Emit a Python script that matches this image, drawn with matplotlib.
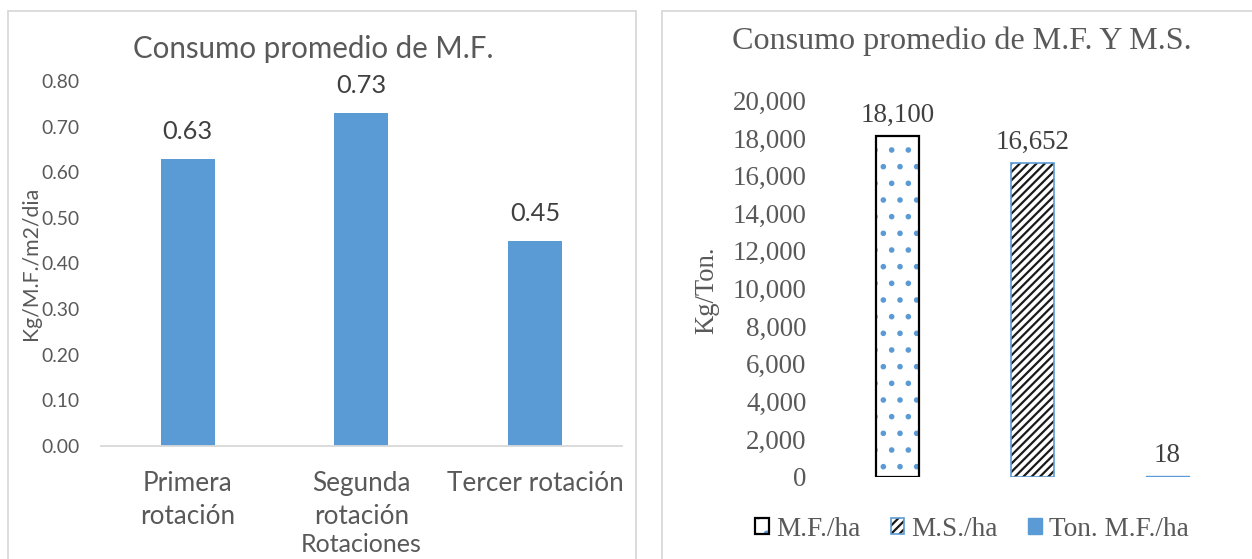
import matplotlib
matplotlib.use("Agg")
import matplotlib.pyplot as plt
from matplotlib.patches import Rectangle, Patch
from matplotlib.font_manager import FontProperties
from matplotlib.textpath import TextPath
from matplotlib.legend_handler import HandlerTuple

# ---- data -------------------------------------------------------------
rotaciones = ["Primera\nrotación", "Segunda\nrotación", "Tercer rotación"]
consumo_mf = [0.63, 0.73, 0.45]          # Kg/M.F./m2/dia
ticks_mf = [0.0, 0.1, 0.2, 0.3, 0.4, 0.5, 0.6, 0.7, 0.8]

series_ms = ["M.F./ha", "M.S./ha", "Ton. M.F./ha"]
consumo_ms = [18100, 16652, 18]          # Kg/Ton.
ticks_ms = [0, 2000, 4000, 6000, 8000, 10000, 12000, 14000, 16000, 18000, 20000]

# ---- styling ------------------------------------------------------------
W, H, DPI = 1252, 559, 100
BLUE = "#5B9BD5"
TXT = "#595959"
FRAME = "#D9D9D9"
SANS = "Lato"
SERIF = "Liberation Serif"

plt.rcParams["hatch.linewidth"] = 1.6


def fit(text, family, width_px):
    """Font size (pt) that makes `text` span `width_px` pixels."""
    tp = TextPath((0, 0), text, size=100, prop=FontProperties(family=family))
    return width_px * 72 / DPI * 100 / tp.get_extents().width


def glyph_extent(ch, family):
    ext = TextPath((0, 0), ch, size=100, prop=FontProperties(family=family)).get_extents()
    return ext.y1 / 100, -ext.y0 / 100


def rect(x0, y0, x1, y1):
    """Axes rectangle from pixel edges measured from the top-left."""
    return [x0 / W, 1 - y1 / H, (x1 - x0) / W, (y1 - y0) / H]


def fx(x):
    return x / W


def fy(y):
    return 1 - y / H


fig = plt.figure(figsize=(W / DPI, H / DPI), dpi=DPI)
fig.patch.set_facecolor("white")

# chart frames
fig.add_artist(Rectangle((fx(7.7), fy(575)), (635.7 - 7.7) / W, (575 - 11) / H,
                         transform=fig.transFigure, fill=False,
                         edgecolor=FRAME, lw=1.3))
fig.add_artist(Rectangle((fx(661.7), fy(575)), (1280 - 661.7) / W, (575 - 11) / H,
                         transform=fig.transFigure, fill=False,
                         edgecolor=FRAME, lw=1.3))

# ---- left chart: consumo promedio de M.F. ------------------------------
s_title_l = fit("Consumo promedio de M.F.", SANS, 357)
s_tick_l = fit("0.00", SANS, 37)
s_cat_l = fit("Primera", SANS, 85)
s_val_l = fit("0.63", SANS, 48)
s_ylab_l = fit("Kg/M.F./m2/dia", SANS, 150)
s_xlab_l = fit("Rotaciones", SANS, 118)

axL = fig.add_axes(rect(100.7, 81, 622, 446))
xs = list(range(len(rotaciones)))
axL.bar(xs, consumo_mf, width=0.31, color=BLUE, zorder=2)
axL.set_xlim(-0.5, len(rotaciones) - 0.5)
axL.set_ylim(0, 0.8)
for side in ("top", "right", "left"):
    axL.spines[side].set_visible(False)
axL.spines["bottom"].set_color(FRAME)
axL.spines["bottom"].set_linewidth(1.3)
axL.set_yticks(ticks_mf)
axL.set_yticklabels([f"{v:.2f}" for v in ticks_mf], fontfamily=SANS,
                    fontsize=s_tick_l, color=TXT)
axL.tick_params(axis="y", length=0, pad=20.7 * 72 / DPI)

# category labels with measured line spacing
asc, _ = glyph_extent("l", SANS)
_, desc = glyph_extent("p", SANS)
em = s_cat_l * DPI / 72
ls = (31.5 - desc * em) / (asc * em)
axL.set_xticks(xs)
axL.set_xticklabels(rotaciones, fontfamily=SANS, fontsize=s_cat_l, color=TXT,
                    linespacing=ls)
axL.tick_params(axis="x", length=0, pad=25 * 72 / DPI)

for x, v in zip(xs, consumo_mf):
    axL.annotate(f"{v:.2f}", xy=(x, v), xytext=(0, 20 * 72 / DPI),
                 textcoords="offset points", ha="center", va="baseline",
                 fontfamily=SANS, fontsize=s_val_l, color="#404040",
                 annotation_clip=False)

fig.text(fx(313.4), fy(58.3), "Consumo promedio de M.F.", ha="center",
         va="baseline", fontfamily=SANS, fontsize=s_title_l, color=TXT)
fig.text(fx(361.4), fy(551.7), "Rotaciones", ha="center", va="baseline",
         fontfamily=SANS, fontsize=s_xlab_l, color=TXT)
fig.text(fx(31), fy(263.5), "Kg/M.F./m2/dia", rotation=90, ha="center",
         va="center", fontfamily=SANS, fontsize=s_ylab_l, color=TXT)

# ---- right chart: consumo promedio de M.F. y M.S. ----------------------
s_title_r = fit("Consumo promedio de M.F. Y M.S.", SERIF, 457)
s_tick_r = fit("20,000", SERIF, 72)
s_leg_r = fit("M.F./ha", SERIF, 83)
s_ylab_r = fit("Kg/Ton.", SERIF, 85)

axR = fig.add_axes(rect(830, 100.3, 1235, 476.7))
bw = 0.3185
xr = list(range(len(series_ms)))

# M.F./ha: blue dots inside a black outline
axR.bar(xr[0], consumo_ms[0], width=bw, facecolor="white", edgecolor=BLUE,
        hatch=".", linewidth=0, zorder=2)
axR.bar(xr[0], consumo_ms[0], width=bw, fill=False, edgecolor="black",
        linewidth=1.6, zorder=3)
# M.S./ha: dense black diagonals inside a blue outline
axR.bar(xr[1], consumo_ms[1], width=bw, facecolor="white", edgecolor="#1A1A1A",
        hatch="////", linewidth=0, zorder=2)
axR.bar(xr[1], consumo_ms[1], width=bw, fill=False, edgecolor=BLUE,
        linewidth=1.2, zorder=3)
# Ton. M.F./ha: solid blue
axR.bar(xr[2], consumo_ms[2], width=bw, color=BLUE, edgecolor=BLUE,
        linewidth=1.0, zorder=2)

axR.set_xlim(-0.5, 2.5)
axR.set_ylim(0, 20000)
for side in axR.spines:
    axR.spines[side].set_visible(False)
axR.set_xticks([])
axR.set_yticks(ticks_ms)
axR.set_yticklabels([f"{v:,}" for v in ticks_ms], fontfamily=SERIF,
                    fontsize=s_tick_r, color=TXT)
axR.tick_params(axis="y", length=0, pad=23.3 * 72 / DPI)

for x, v in zip(xr, consumo_ms):
    axR.annotate(f"{v:,}", xy=(x, v), xytext=(0, 14.5 * 72 / DPI),
                 textcoords="offset points", ha="center", va="baseline",
                 fontfamily=SERIF, fontsize=s_tick_r, color="#404040",
                 annotation_clip=False)

fig.text(fx(961.5), fy(49.3), "Consumo promedio de M.F. Y M.S.", ha="center",
         va="baseline", fontfamily=SERIF, fontsize=s_title_r, color=TXT)
fig.text(fx(707), fy(290), "Kg/Ton.", rotation=90, ha="center", va="center",
         fontfamily=SERIF, fontsize=s_ylab_r, color=TXT)

h_mf = (Patch(facecolor="white", edgecolor=BLUE, hatch=".", linewidth=0),
        Patch(fill=False, edgecolor="black", linewidth=1.6))
h_ms = (Patch(facecolor="white", edgecolor="#1A1A1A", hatch="////", linewidth=0),
        Patch(fill=False, edgecolor=BLUE, linewidth=1.2))
h_ton = Patch(facecolor=BLUE, edgecolor=BLUE)
fig.legend([h_mf, h_ms, h_ton], series_ms, loc="center",
           bbox_to_anchor=(fx(972), fy(529)), ncol=3, frameon=False,
           handler_map={tuple: HandlerTuple(ndivide=1)},
           handlelength=0.5, handleheight=0.5, handletextpad=0.27,
           columnspacing=1.1, borderaxespad=0, borderpad=0,
           prop=FontProperties(family=SERIF, size=s_leg_r), labelcolor=TXT)

fig.savefig("out.png", dpi=DPI, facecolor="white")
